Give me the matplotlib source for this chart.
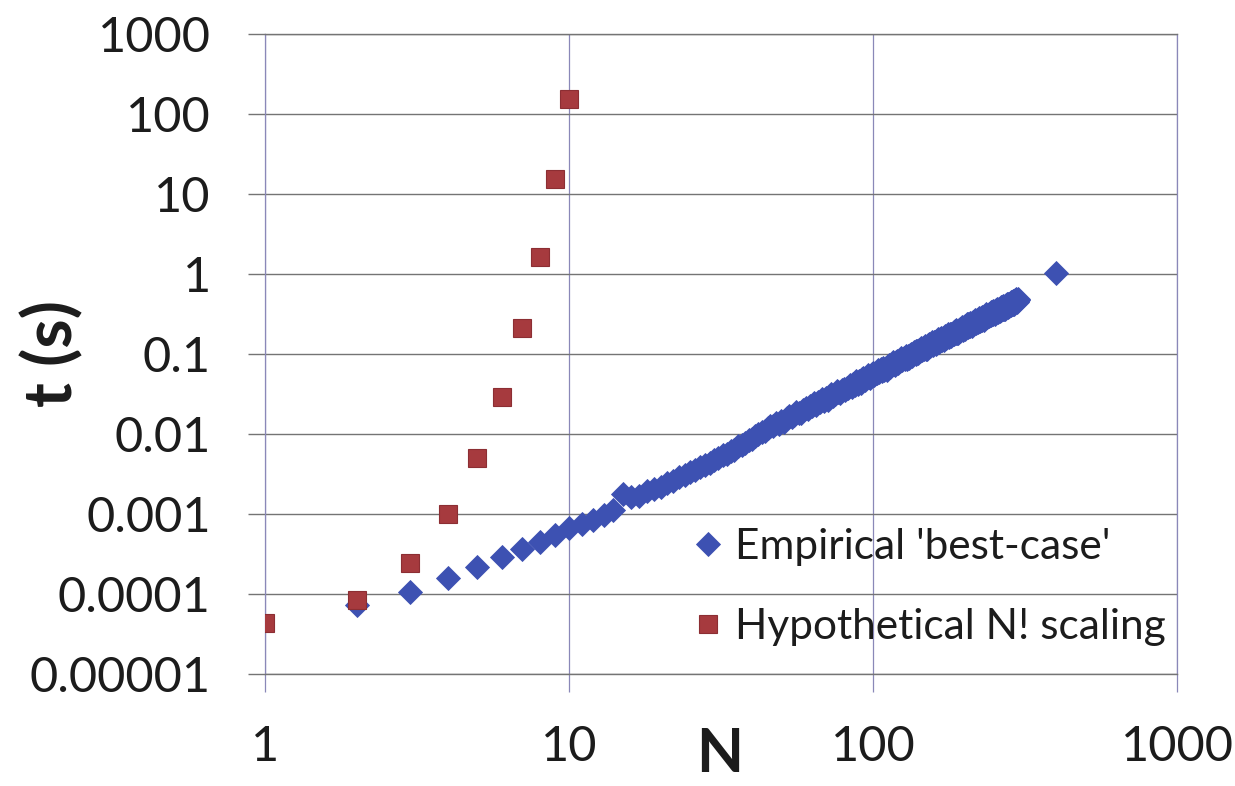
import matplotlib
matplotlib.use("Agg")
import matplotlib.pyplot as plt
from matplotlib.ticker import FixedLocator, FixedFormatter, NullLocator

plt.rcParams['font.family'] = ['Lato', 'DejaVu Sans']

# Hypothetical N! scaling, N = 1..10
n_fact = [1, 2, 3, 4, 5, 6, 7, 8, 9, 10]
t_fact = [4.3e-5, 8.4e-5, 2.45e-4, 1.0e-3, 5.0e-3, 0.029, 0.21, 1.62, 15.2, 152]

# Empirical best-case timings, N = 2..300 plus one run at N = 400
n_emp = list(range(2, 301)) + [400]
t_emp = [
    7.2e-5, 1.06e-4, 1.58e-4, 2.2e-4, 2.9e-4, 3.7e-4, 4.5e-4, 5.5e-4, 6.6e-4,            # 2-10
    7.4e-4, 8.4e-4, 9.8e-4, 1.12e-3, 1.78e-3, 1.62e-3, 1.70e-3, 1.92e-3, 2.05e-3, 2.20e-3,  # 11-20
    2.45e-3, 2.60e-3, 2.90e-3, 3.10e-3, 3.35e-3, 3.50e-3, 3.85e-3, 4.10e-3, 4.40e-3, 4.75e-3,  # 21-30
    5.00e-3, 5.45e-3, 5.70e-3, 6.20e-3, 6.40e-3, 7.00e-3, 7.30e-3, 7.80e-3, 8.40e-3, 8.70e-3,  # 31-40
    9.50e-3, 9.90e-3, 0.0105, 0.0110, 0.0118, 0.0126, 0.0125, 0.0139, 0.0133, 0.0145,       # 41-50
    0.0140, 0.0158, 0.0167, 0.0162, 0.0173, 0.0190, 0.0184, 0.0182, 0.0202, 0.0211,         # 51-60
    0.0204, 0.0221, 0.0222, 0.0245, 0.0233, 0.0254, 0.0249, 0.0275, 0.0258, 0.0280,         # 61-70
    0.0268, 0.0299, 0.0313, 0.0300, 0.0317, 0.0345, 0.0331, 0.0325, 0.0358, 0.0370,         # 71-80
    0.0353, 0.0381, 0.0378, 0.0415, 0.0392, 0.0426, 0.0415, 0.0455, 0.0424, 0.0457,         # 81-90
    0.0434, 0.0481, 0.0501, 0.0477, 0.0502, 0.0544, 0.0518, 0.0507, 0.0555, 0.0572,         # 91-100
    0.0543, 0.0583, 0.0576, 0.0629, 0.0593, 0.0641, 0.0621, 0.0677, 0.0631, 0.0676,         # 101-110
    0.0640, 0.0707, 0.0733, 0.0696, 0.0729, 0.0787, 0.0746, 0.0729, 0.0795, 0.0816,         # 111-120
    0.0773, 0.0826, 0.0814, 0.0887, 0.0832, 0.0897, 0.0867, 0.0944, 0.0876, 0.0935,         # 121-130
    0.0884, 0.0973, 0.101, 0.0954, 0.0997, 0.107, 0.102, 0.0989, 0.108, 0.110,              # 131-140
    0.104, 0.111, 0.109, 0.119, 0.111, 0.120, 0.115, 0.125, 0.116, 0.124,                  # 141-150
    0.117, 0.128, 0.132, 0.125, 0.130, 0.140, 0.132, 0.129, 0.140, 0.143,                   # 151-160
    0.135, 0.144, 0.141, 0.153, 0.143, 0.154, 0.148, 0.160, 0.148, 0.158,                   # 161-170
    0.149, 0.163, 0.168, 0.159, 0.165, 0.177, 0.167, 0.162, 0.176, 0.180,                   # 171-180
    0.170, 0.180, 0.177, 0.191, 0.179, 0.192, 0.184, 0.200, 0.184, 0.196,                   # 181-190
    0.184, 0.202, 0.208, 0.196, 0.204, 0.219, 0.206, 0.200, 0.217, 0.221,                   # 191-200
    0.208, 0.221, 0.216, 0.234, 0.218, 0.234, 0.225, 0.243, 0.224, 0.238,                   # 201-210
    0.224, 0.245, 0.252, 0.237, 0.247, 0.264, 0.249, 0.241, 0.261, 0.266,                   # 211-220
    0.250, 0.266, 0.260, 0.281, 0.262, 0.280, 0.269, 0.291, 0.268, 0.285,                   # 221-230
    0.267, 0.292, 0.300, 0.283, 0.294, 0.314, 0.296, 0.286, 0.310, 0.315,                   # 231-240
    0.296, 0.314, 0.307, 0.332, 0.309, 0.331, 0.317, 0.343, 0.316, 0.335,                   # 241-250
    0.314, 0.343, 0.353, 0.332, 0.345, 0.368, 0.346, 0.335, 0.362, 0.369,                   # 251-260
    0.346, 0.367, 0.359, 0.387, 0.360, 0.385, 0.369, 0.399, 0.367, 0.389,                   # 261-270
    0.365, 0.399, 0.409, 0.384, 0.399, 0.426, 0.401, 0.387, 0.419, 0.426,                   # 271-280
    0.400, 0.423, 0.414, 0.446, 0.415, 0.444, 0.425, 0.459, 0.422, 0.447,                   # 281-290
    0.419, 0.458, 0.470, 0.441, 0.458, 0.488, 0.459, 0.443, 0.479, 0.487,                   # 291-300
    1.02,                                                                                   # 400
]

x_ticks = [1, 10, 100, 1000]
x_labels = ['1', '10', '100', '1000']
y_ticks = [1e-5, 1e-4, 1e-3, 1e-2, 1e-1, 1, 10, 100, 1000]
y_labels = ['0.00001', '0.0001', '0.001', '0.01', '0.1', '1', '10', '100', '1000']

blue = '#3d51b2'
red = '#a63a3e'
hgrid = '#747474'
vgrid = '#8a88b8'
text_col = '#1c1c1c'

W, H = 1235, 786
fig = plt.figure(figsize=(W / 100, H / 100), dpi=100)
ax = fig.add_axes([265 / W, 1 - 674 / H, (1177 - 265) / W, (674 - 34) / H])

ax.plot(n_emp, t_emp, linestyle='none', marker='D', markersize=11.8,
        color=blue, markeredgecolor=blue, markeredgewidth=0.6,
        label="Empirical 'best-case'", zorder=3)
ax.plot(n_fact, t_fact, linestyle='none', marker='s', markersize=12.5,
        color=red, markeredgecolor='#8c2e33', markeredgewidth=0.8,
        label='Hypothetical N! scaling', zorder=4)

ax.set_xscale('log')
ax.set_yscale('log')
ax.set_xlim(1, 1000)
ax.set_ylim(1e-5, 1000)

ax.xaxis.set_major_locator(FixedLocator(x_ticks))
ax.xaxis.set_major_formatter(FixedFormatter(x_labels))
ax.xaxis.set_minor_locator(NullLocator())
ax.yaxis.set_major_locator(FixedLocator(y_ticks))
ax.yaxis.set_major_formatter(FixedFormatter(y_labels))
ax.yaxis.set_minor_locator(NullLocator())

ax.grid(True, axis='y', color=hgrid, linewidth=1.0, zorder=0)
ax.grid(True, axis='x', color=vgrid, linewidth=0.9, zorder=0)
ax.set_axisbelow(True)

for side in ('left', 'right'):
    ax.spines[side].set_color(vgrid)
    ax.spines[side].set_linewidth(0.9)
for side in ('top', 'bottom'):
    ax.spines[side].set_color(hgrid)
    ax.spines[side].set_linewidth(1.0)

ax.tick_params(axis='y', which='major', direction='out', length=12, width=1.0,
               color=hgrid, pad=27, labelsize=35, labelcolor=text_col)
ax.tick_params(axis='x', which='major', direction='out', length=13, width=0.9,
               color=vgrid, pad=24, labelsize=35, labelcolor=text_col)

ax.set_xlabel('N', fontsize=44, fontweight='bold', color=text_col)
ax.xaxis.set_label_coords(0.499, -0.082)
ax.xaxis.label.set_verticalalignment('top')
ax.set_ylabel('t (s)', fontsize=48, fontweight='bold', color=text_col)
ax.yaxis.set_label_coords(-0.198, 0.5)

ax.legend(loc='upper left', bbox_to_anchor=(693 / W, 1 - 528 / H),
          bbox_transform=fig.transFigure, frameon=False, fontsize=30.5,
          numpoints=1, handlelength=0.7, handletextpad=0.3,
          labelspacing=0.98, borderpad=0, borderaxespad=0,
          labelcolor=text_col)

fig.savefig('out.png', dpi=100)
